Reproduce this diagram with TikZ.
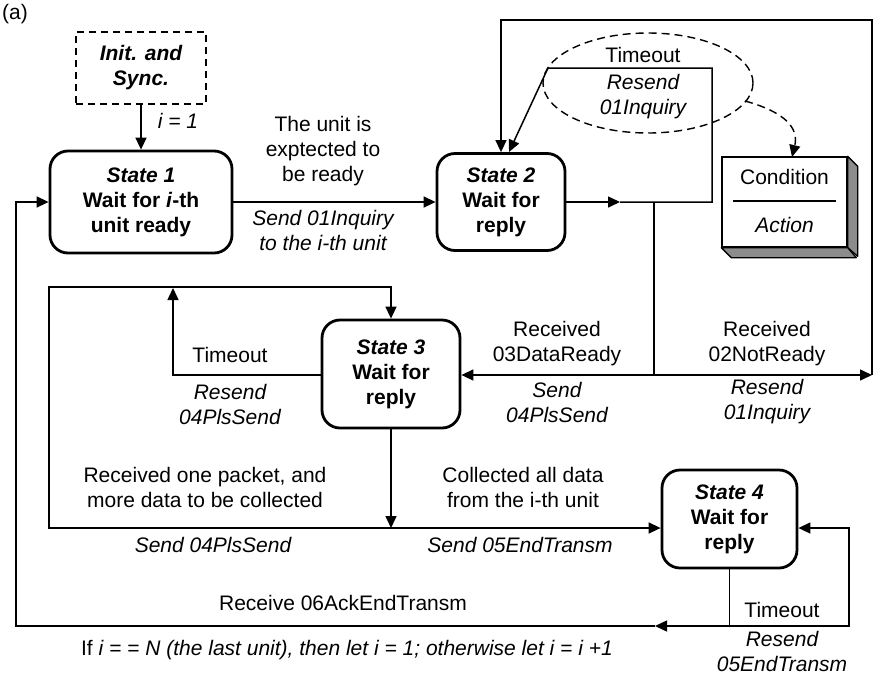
\documentclass[tikz,border=0pt]{standalone}
\usepackage{fontspec}
\setmainfont{Liberation Sans}
\usetikzlibrary{arrows.meta,shapes.geometric}
\begin{document}
\begin{tikzpicture}[x=1pt,y=-1pt,
  every node/.style={font=\fontsize{21}{25}\selectfont, align=center, inner sep=0pt},
  act/.style={font=\fontsize{21}{25}\selectfont\itshape},
  conn/.style={line width=1.5pt},
  tip/.style={-{Triangle[length=12pt,width=11pt]}},
  state/.style={draw, line width=2.8pt, rounded corners=18pt,
    font=\fontsize{21}{25}\selectfont\bfseries},
  initbox/.style={draw, line width=2.4pt, dash pattern=on 7pt off 5pt,
    minimum width=130pt, minimum height=72pt,
    font=\fontsize{21}{25}\selectfont\bfseries\itshape},
  note/.style={draw, line width=1.4pt, dash pattern=on 8pt off 5pt},
  shade/.style={draw, line width=1.3pt, fill=black!45, line join=round}]
\useasboundingbox (0,0) rectangle (874,678);

% states
\node (tag) at (15,14) {(a)};
\node[initbox] (init) at (141,68) {Init. and\\Sync.};
\node[state, minimum width=182pt, minimum height=102pt] (s1) at (141,202)
  {\textit{State 1}\\Wait for \textit{i}-th\\unit ready};
\node[state, minimum width=128pt, minimum height=97pt] (s2) at (501,202)
  {\textit{State 2}\\Wait for\\reply};
\node[state, minimum width=138pt, minimum height=108pt] (s3) at (391,374)
  {\textit{State 3}\\Wait for\\reply};
\node[state, minimum width=135pt, minimum height=98pt] (s4) at (729.5,519)
  {\textit{State 4}\\Wait for\\reply};

% legend: condition / action box
\node[draw, line width=1.4pt, minimum width=125pt, minimum height=90pt] (cond) at (784.5,202) {};
\draw[shade] (cond.north east) -- ++(10,10) -- ++(0,90) -- (cond.south east) -- cycle;
\draw[shade] (cond.south west) -- ++(10,10) -- ++(125,0) -- (cond.south east) -- cycle;
\node (condtxt) at (784.5,177) {Condition};
\draw[line width=1.3pt] (733,201) -- (836,201);
\node[act] (acttxt) at (784.5,225) {Action};

% transition points
\coordinate (m2) at (620,202);
\coordinate (j0) at (654,202);
\coordinate (r2) at (712,202);
\coordinate (t2a) at (712,68);
\coordinate (t2b) at (548,68);
\coordinate (t2c) at (509,152);
\coordinate (J) at (654,375);
\coordinate (c1) at (872,375);
\coordinate (c2) at (872,20);
\coordinate (c3) at (501,20);
\coordinate (t3a) at (173,375);
\coordinate (t3b) at (173,288);
\coordinate (k) at (391,528);
\coordinate (p1) at (49,528);
\coordinate (p2) at (49,287);
\coordinate (b4) at (729.5,626);
\coordinate (m4) at (655,626);
\coordinate (r4a) at (849,626);
\coordinate (r4b) at (849,528);
\coordinate (l1) at (16,626);
\coordinate (l2) at (16,202);

% connectors
\draw[conn,tip] (init.south) -- (init.south |- s1.north);
\draw[conn,tip] (s1.east) -- (s2.west);
\draw[conn,tip] (s2.east) -- (m2);
\draw[conn,tip] (m2) -- (r2) -- (t2a) -- (t2b) -- (t2c);
\draw[conn] (j0) -- (J);
\draw[conn,tip] (J) -- (J -| s3.east);
\draw[conn,tip] (J) -- (c1);
\draw[conn,tip] (c1) -- (c2) -- (c3) -- (c3 |- s2.north);
\draw[conn,tip] (J -| s3.west) -- (t3a) -- (t3b);
\draw[conn,tip] (s3.south) -- (k);
\draw[conn,tip] (k) -- (p1) -- (p2) -- (p2 -| s3.north) -- (s3.north);
\draw[conn,tip] (k) -- (k -| s4.west);
\draw[conn] (s4.south) -- (b4);
\draw[conn,tip] (b4) -- (r4a) -- (r4b) -- (r4b -| s4.east);
\draw[conn,tip] (b4) -- (m4);
\draw[conn,tip] (m4) -- (l1) -- (l2) -- (s1.west);

% dashed annotation of a transition label
\node[note, ellipse, minimum width=210pt, minimum height=100pt] (ell) at (648,83) {};
\coordinate (e1) at (745,101);
\coordinate (e2) at (792,157);
\draw[line width=1.4pt, dash pattern=on 8pt off 5pt, -{Triangle[length=12pt,width=11pt]}]
  (e1) .. controls (785,112) and (799,128) .. (e2);

% labels
\node[act] (li1) at (178,121) {i = 1};
\node (lready) at (323,151) {The unit is\\exptected to\\be ready};
\node[act] (lsend1) at (323,230) {Send 01Inquiry\\to the i-th unit};
\node (lto2) at (643,55) {Timeout};
\node[act] (lre2) at (643,97) {Resend\\01Inquiry};
\node (lto3) at (230,355) {Timeout};
\node[act] (lre3) at (230,404) {Resend\\04PlsSend};
\node (lrx3) at (557,344) {Received\\03DataReady};
\node[act] (lsd3) at (557,402) {Send\\04PlsSend};
\node (lrx2) at (767,344) {Received\\02NotReady};
\node[act] (lre1) at (767,402) {Resend\\01Inquiry};
\node (lmore) at (205,487) {Received one packet, and\\more data to be collected};
\node[act] (lsd4) at (213,545) {Send 04PlsSend};
\node (lall) at (523,487) {Collected all data\\from the i-th unit};
\node[act] (lsd5) at (520,545) {Send 05EndTransm};
\node (lack) at (343,603) {Receive 06AckEndTransm};
\node (lif) at (347,650) {If \textit{i = = N (the last unit), then let i = 1; otherwise let i = i +1}};
\node (lto4) at (782,610) {Timeout};
\node[act] (lre4) at (782,651) {Resend\\05EndTransm};
\end{tikzpicture}
\end{document}
